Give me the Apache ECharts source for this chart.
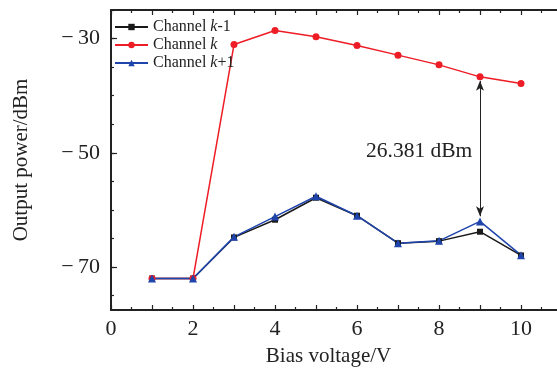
<!DOCTYPE html>
<html>
<head>
<meta charset="utf-8">
<script src="https://cdn.jsdelivr.net/npm/echarts@6/dist/echarts.min.js"></script>
<style>
  html, body { margin: 0; padding: 0; background: #fff; }
  #chart { width: 557px; height: 372px; }
</style>
</head>
<body>
<div id="chart"></div>
<script>
const biasVoltage = [1, 2, 3, 4, 5, 6, 7, 8, 9, 10];
const channelKMinus1 = [-72.0, -72.0, -64.8, -61.7, -57.85, -61.0, -65.8, -65.45, -63.8, -67.95];
const channelK = [-72.0, -72.0, -31.05, -28.6, -29.7, -31.2, -32.9, -34.6, -36.7, -37.85];
const channelKPlus1 = [-72.0, -72.0, -64.7, -61.15, -57.6, -61.0, -65.8, -65.4, -62.0, -67.9];

const yLabelValues = [-70, -50, -30];
const yTickValues = [-75, -70, -65, -60, -55, -50, -45, -40, -35, -30, -25];
const arrowX = 9;
const arrowTop = -37.4;
const arrowBottom = -61.1;
const gapLabel = "26.381 dBm";

const serif = "Liberation Serif";
const ink = "#222";

const chart = echarts.init(document.getElementById("chart"));

const toPairs = (ys) => biasVoltage.map((x, i) => [x, ys[i]]);

const legendNames = {
  "Channel k-1": "Channel {i|k}-1",
  "Channel k": "Channel {i|k}",
  "Channel k+1": "Channel {i|k}+1",
};

const xCommon = {
  type: "value",
  min: 0,
  max: 11,
  interval: 1,
  splitLine: { show: false },
  axisLine: { lineStyle: { color: ink, width: 2 } },
  axisTick: { inside: true, length: 5, lineStyle: { color: ink, width: 1.2 } },
  minorTick: { show: true, splitNumber: 2, length: 3, lineStyle: { color: ink, width: 1.2 } },
};

const yCommon = {
  type: "value",
  min: -77.5,
  max: -25,
  splitLine: { show: false },
  axisLine: { show: true, lineStyle: { color: ink, width: 2 } },
};

chart.setOption({
  animation: false,
  backgroundColor: "#fff",
  textStyle: { fontFamily: serif },
  grid: { left: 111, top: 10, width: 451, height: 300, outerBoundsMode: "none", containLabel: false },
  legend: {
    orient: "vertical",
    left: 114,
    top: 19,
    itemWidth: 33,
    itemHeight: 8,
    itemGap: 2,
    padding: 0,
    textStyle: {
      fontFamily: serif,
      fontSize: 16,
      color: "#222",
      rich: { i: { fontFamily: serif, fontSize: 16, fontStyle: "italic", color: "#222" } },
    },
    formatter: (name) => legendNames[name],
  },
  xAxis: [
    {
      ...xCommon,
      position: "bottom",
      name: "Bias voltage/V",
      nameLocation: "middle",
      nameGap: 36,
      nameTextStyle: { fontFamily: serif, fontSize: 21, color: ink, padding: [0, 16, 0, 0] },
      axisLabel: {
        fontFamily: serif,
        fontSize: 22,
        color: ink,
        margin: 8,
        formatter: (v) => (v % 2 === 0 ? String(v) : ""),
      },
    },
    { ...xCommon, position: "top", axisLabel: { show: false } },
  ],
  yAxis: [
    {
      ...yCommon,
      position: "left",
      name: "Output power/dBm",
      nameLocation: "middle",
      nameGap: 79,
      nameTextStyle: { fontFamily: serif, fontSize: 21, color: ink },
      axisTick: { inside: true, length: 6, customValues: yLabelValues, lineStyle: { color: ink, width: 1.2 } },
      axisLabel: {
        fontFamily: serif,
        fontSize: 22,
        color: ink,
        margin: 11,
        customValues: yLabelValues,
        formatter: (v) => "\u2212\u2009" + Math.abs(v),
      },
    },
    {
      ...yCommon,
      position: "left",
      axisLine: { show: false },
      axisTick: { inside: true, length: 3, customValues: yTickValues, lineStyle: { color: ink, width: 1.2 } },
      axisLabel: { show: false },
    },
    {
      ...yCommon,
      position: "right",
      axisTick: { inside: true, length: 4, customValues: yTickValues, lineStyle: { color: ink, width: 1.2 } },
      axisLabel: { show: false },
    },
  ],
  graphic: [
    {
      type: "text",
      left: 366,
      top: 140,
      style: { text: gapLabel, font: "21.5px 'Liberation Serif'", fill: ink },
    },
  ],
  series: [
    {
      name: "Channel k-1",
      type: "line",
      data: toPairs(channelKMinus1),
      symbol: "rect",
      symbolSize: 6,
      color: "#1a1a1a",
      lineStyle: { width: 1.5 },
    },
    {
      name: "Channel k",
      type: "line",
      data: toPairs(channelK),
      symbol: "circle",
      symbolSize: 7,
      color: "#ee1c25",
      lineStyle: { width: 1.5 },
    },
    {
      name: "Channel k+1",
      type: "line",
      data: toPairs(channelKPlus1),
      symbol: "triangle",
      symbolSize: 8,
      color: "#1f45ad",
      lineStyle: { width: 1.5 },
      markLine: {
        silent: true,
        symbol: ["arrow", "arrow"],
        symbolSize: [6, 10],
        label: { show: false },
        lineStyle: { color: "#222", width: 1, type: "solid" },
        data: [[{ coord: [arrowX, arrowTop] }, { coord: [arrowX, arrowBottom] }]],
      },
    },
  ],
});
</script>
</body>
</html>
